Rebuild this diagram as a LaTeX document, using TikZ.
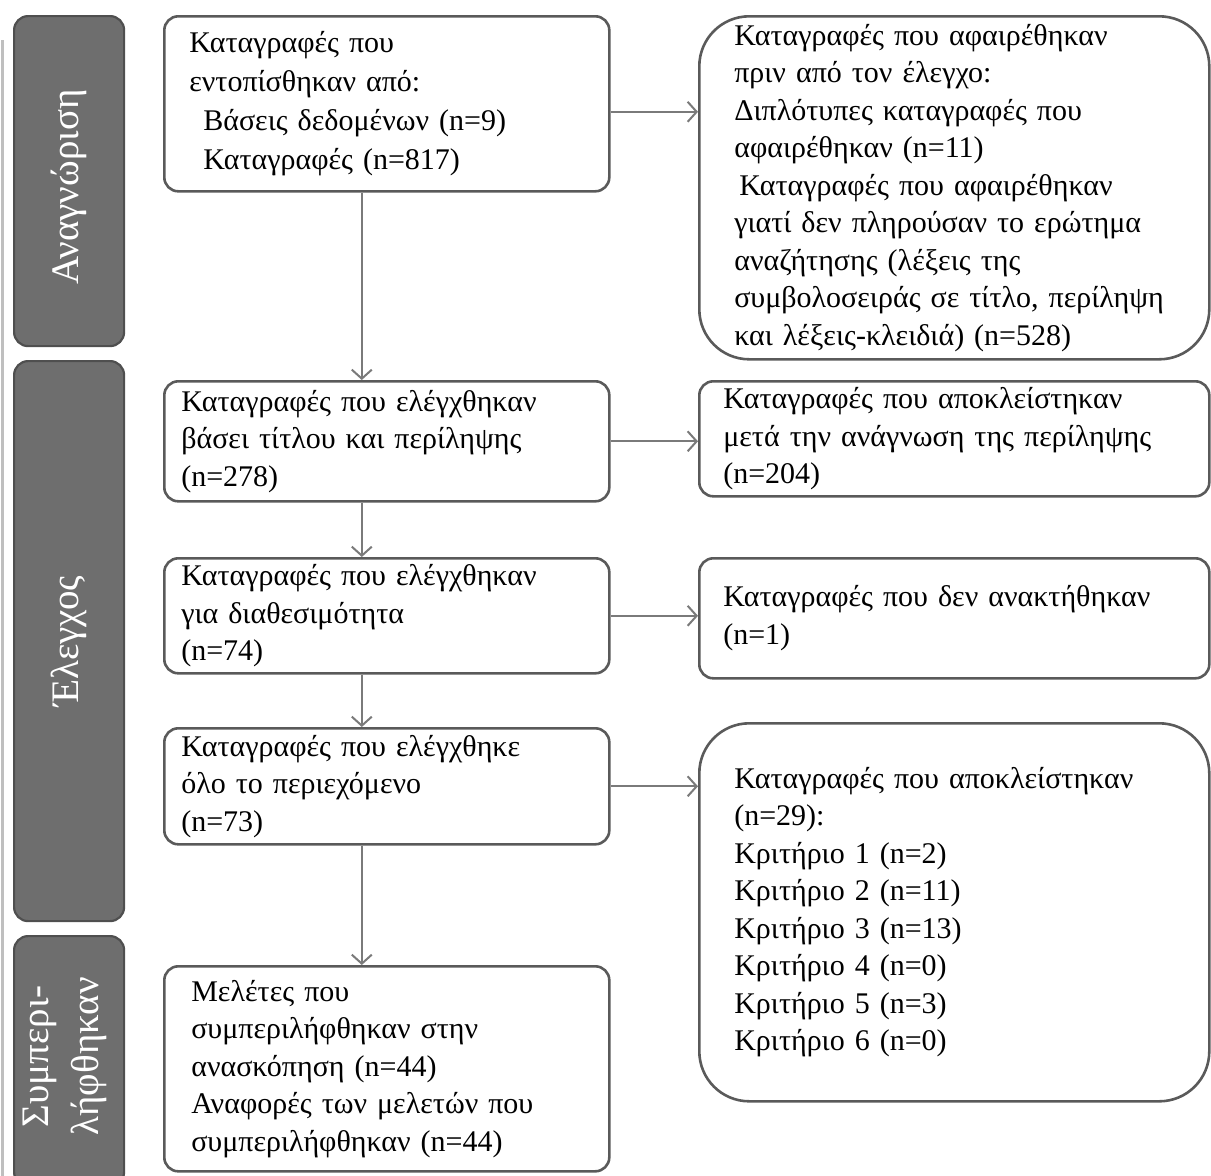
\documentclass[tikz,border=0pt]{standalone}
\usepackage{fontspec}
\setmainfont{Liberation Serif}
\usetikzlibrary{arrows.meta}
\definecolor{bargray}{HTML}{6E6E6E}
\definecolor{bardark}{HTML}{4F4F4F}
\definecolor{edgegray}{HTML}{5A5A5A}
\definecolor{arrgray}{HTML}{7A7A7A}
\tikzset{
  box/.style={draw=edgegray, line width=2.6pt, rounded corners=14pt, anchor=north west,
    align=left, inner ysep=0pt, inner xsep=17pt, font=\fontsize{30}{37.5}\selectfont},
  bigbox/.style={box, rounded corners=50pt},
  phase/.style={fill=bargray, draw=bardark, line width=2.2pt, rounded corners=14pt,
    anchor=north west, inner sep=0pt, minimum width=110pt},
  phaselabel/.style={text=white, rotate=90, align=center, font=\fontsize{39}{50}\selectfont},
  arr/.style={draw=arrgray, line width=2pt, -{Straight Barb[length=9pt,width=20pt,line width=2pt]}}
}
\begin{document}
\begin{tikzpicture}[x=1pt, y=-1pt]
  \useasboundingbox (0,0) rectangle (1211,1176);
  \draw[black!25, line width=3pt] (2,40) -- (2,1176);

  % phase bars
  \node[phase, minimum height=330pt] (idbar) at (13,15) {};
  \node[phase, minimum height=560pt] (scrbar) at (13,360) {};
  \node[phase, minimum height=250pt] (incbar) at (13,935) {};
  \node[phaselabel] (idlab) at ([yshift=-6pt]idbar.center) {Αναγνώριση};
  \node[phaselabel] (scrlab) at (scrbar.center) {Έλεγχος};
  \node[phaselabel] (inclab) at ([xshift=-4pt,yshift=5pt]incbar.center) {Συμπερι-\\λήφθηκαν};

  % main column
  \node[box, inner xsep=25pt, text width=395pt, minimum height=175pt,
    font=\fontsize{30}{39}\selectfont] (found) at (163,15)
    {Καταγραφές που\\εντοπίσθηκαν από:\\\hspace{14pt}Βάσεις δεδομένων (n=9)\\\hspace{14pt}Καταγραφές (n=817)};
  \node[box, text width=411pt, minimum height=120pt] (titabs) at (163,380)
    {Καταγραφές που ελέγχθηκαν\\βάσει τίτλου και περίληψης\\(n=278)};
  \node[box, text width=411pt, minimum height=115pt] (avail) at (163,557)
    {Καταγραφές που ελέγχθηκαν\\για διαθεσιμότητα\\(n=74)};
  \node[box, text width=411pt, minimum height=116pt] (fulltxt) at (163,727)
    {Καταγραφές που ελέγχθηκε\\όλο το περιεχόμενο\\(n=73)};
  \node[box, inner xsep=27pt, text width=391pt, minimum height=205pt] (incl) at (163,965)
    {Μελέτες που\\συμπεριλήφθηκαν στην\\ανασκόπηση (n=44)\\Αναφορές των μελετών που\\συμπεριλήφθηκαν (n=44)};

  % side column
  \node[bigbox, inner xsep=35pt, text width=440pt, minimum height=343pt] (removed) at (698,15)
    {Καταγραφές που αφαιρέθηκαν\\πριν από τον έλεγχο:\\Διπλότυπες καταγραφές που\\αφαιρέθηκαν (n=11)\\\hspace{5pt}Καταγραφές που αφαιρέθηκαν\\γιατί δεν πληρούσαν το ερώτημα\\αναζήτησης (λέξεις της\\συμβολοσειράς σε τίτλο, περίληψη\\και λέξεις-κλειδιά) (n=528)};
  \node[box, inner xsep=24pt, text width=462pt, minimum height=115pt] (excabs) at (698,380)
    {Καταγραφές που αποκλείστηκαν\\μετά την ανάγνωση της περίληψης\\(n=204)};
  \node[box, inner xsep=24pt, text width=462pt, minimum height=120pt] (notret) at (698,557)
    {Καταγραφές που δεν ανακτήθηκαν\\(n=1)};
  \node[bigbox, inner xsep=35pt, text width=440pt, minimum height=378pt] (excfull) at (698,722)
    {Καταγραφές που αποκλείστηκαν\\(n=29):\\Κριτήριο 1 (n=2)\\Κριτήριο 2 (n=11)\\Κριτήριο 3 (n=13)\\Κριτήριο 4 (n=0)\\Κριτήριο 5 (n=3)\\Κριτήριο 6 (n=0)};

  % connectors
  \draw[arr] ([xshift=-25pt]found.south) -- ([xshift=-25pt]titabs.north);
  \draw[arr] ([xshift=-25pt]titabs.south) -- ([xshift=-25pt]avail.north);
  \draw[arr] ([xshift=-25pt]avail.south) -- ([xshift=-25pt]fulltxt.north);
  \draw[arr] ([xshift=-25pt]fulltxt.south) -- ([xshift=-25pt]incl.north);
  \draw[arr] ([yshift=-8pt]found.east) -- ([yshift=-8pt]found.east -| removed.west);
  \draw[arr] (titabs.east) -- (titabs.east -| excabs.west);
  \draw[arr] (avail.east) -- (avail.east -| notret.west);
  \draw[arr] (fulltxt.east) -- (fulltxt.east -| excfull.west);
\end{tikzpicture}
\end{document}
